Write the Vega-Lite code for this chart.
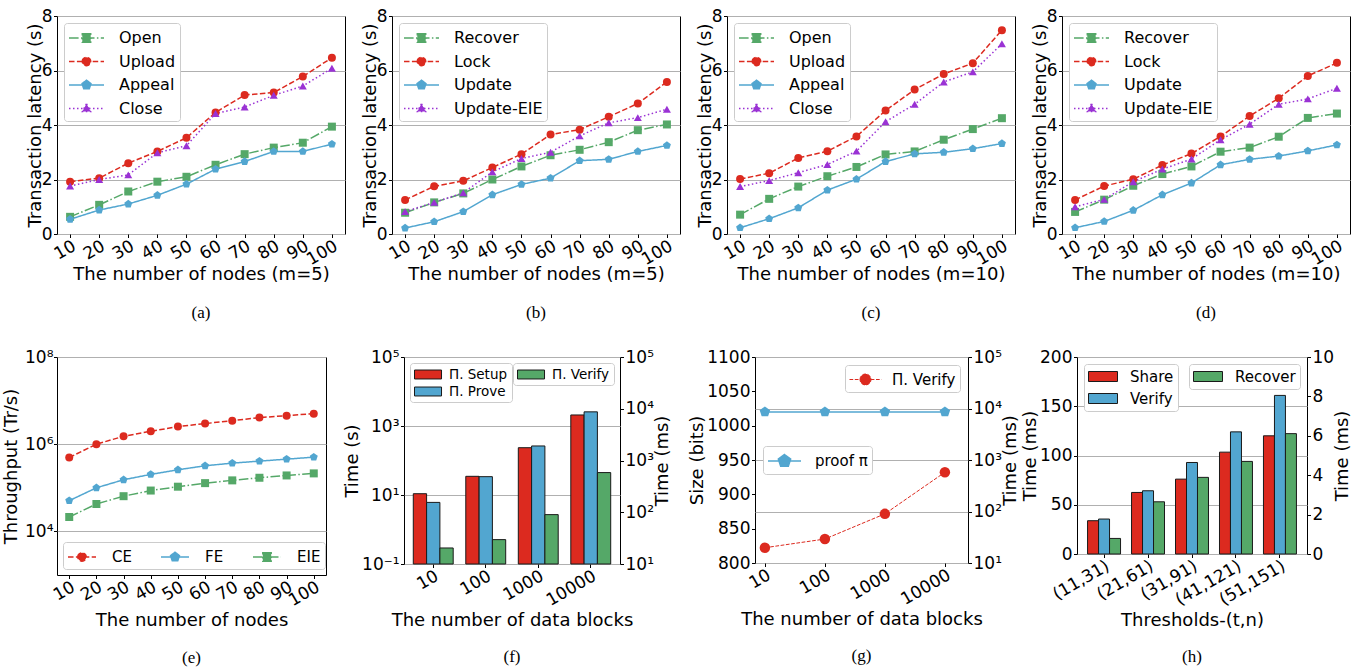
{
  "$schema": "https://vega.github.io/schema/vega-lite/v6.json",
  "padding": {"left": 2, "top": 6, "right": 0, "bottom": 0},
  "background": "white",
  "config": {
    "font": "DejaVu Sans",
    "view": {"stroke": "black", "strokeWidth": 1},
    "axis": {"domain": false, "tickColor": "black", "tickSize": 3.5, "labelFontSize": 17, "titleFontSize": 18, "labelColor": "black", "titleColor": "black", "titleFontWeight": "normal", "gridColor": "#b0b0b0", "gridWidth": 1, "labelPadding": 1.5, "titlePadding": 0, "labelFlush": false, "labelOverlap": false, "labelBound": false},
    "axisX": {"titlePadding": -2, "labelPadding": 0},
    "legend": {"labelFontSize": 16, "labelColor": "black", "fillColor": "white", "strokeColor": "#cccccc", "cornerRadius": 3, "padding": 4, "labelFont": "DejaVu Sans"},
    "title": {"font": "Liberation Serif", "fontSize": 17, "fontWeight": "normal", "color": "black", "frame": "group"}
  },
  "datasets": {
    "a": [
      {"n":10,"s":"Open","v":0.63},{"n":20,"s":"Open","v":1.07},{"n":30,"s":"Open","v":1.56},{"n":40,"s":"Open","v":1.92},{"n":50,"s":"Open","v":2.10},{"n":60,"s":"Open","v":2.54},{"n":70,"s":"Open","v":2.93},{"n":80,"s":"Open","v":3.17},{"n":90,"s":"Open","v":3.35},{"n":100,"s":"Open","v":3.94},
      {"n":10,"s":"Upload","v":1.92},{"n":20,"s":"Upload","v":2.05},{"n":30,"s":"Upload","v":2.60},{"n":40,"s":"Upload","v":3.03},{"n":50,"s":"Upload","v":3.53},{"n":60,"s":"Upload","v":4.46},{"n":70,"s":"Upload","v":5.10},{"n":80,"s":"Upload","v":5.19},{"n":90,"s":"Upload","v":5.78},{"n":100,"s":"Upload","v":6.47},
      {"n":10,"s":"Appeal","v":0.54},{"n":20,"s":"Appeal","v":0.88},{"n":30,"s":"Appeal","v":1.10},{"n":40,"s":"Appeal","v":1.42},{"n":50,"s":"Appeal","v":1.83},{"n":60,"s":"Appeal","v":2.38},{"n":70,"s":"Appeal","v":2.66},{"n":80,"s":"Appeal","v":3.03},{"n":90,"s":"Appeal","v":3.03},{"n":100,"s":"Appeal","v":3.30},
      {"n":10,"s":"Close","v":1.76},{"n":20,"s":"Close","v":2.00},{"n":30,"s":"Close","v":2.17},{"n":40,"s":"Close","v":2.98},{"n":50,"s":"Close","v":3.24},{"n":60,"s":"Close","v":4.42},{"n":70,"s":"Close","v":4.66},{"n":80,"s":"Close","v":5.09},{"n":90,"s":"Close","v":5.43},{"n":100,"s":"Close","v":6.08}
    ],
    "b": [
      {"n":10,"s":"Recover","v":0.78},{"n":20,"s":"Recover","v":1.16},{"n":30,"s":"Recover","v":1.49},{"n":40,"s":"Recover","v":2.00},{"n":50,"s":"Recover","v":2.48},{"n":60,"s":"Recover","v":2.89},{"n":70,"s":"Recover","v":3.09},{"n":80,"s":"Recover","v":3.37},{"n":90,"s":"Recover","v":3.81},{"n":100,"s":"Recover","v":4.02},
      {"n":10,"s":"Lock","v":1.25},{"n":20,"s":"Lock","v":1.75},{"n":30,"s":"Lock","v":1.95},{"n":40,"s":"Lock","v":2.44},{"n":50,"s":"Lock","v":2.93},{"n":60,"s":"Lock","v":3.65},{"n":70,"s":"Lock","v":3.83},{"n":80,"s":"Lock","v":4.30},{"n":90,"s":"Lock","v":4.79},{"n":100,"s":"Lock","v":5.58},
      {"n":10,"s":"Update","v":0.22},{"n":20,"s":"Update","v":0.45},{"n":30,"s":"Update","v":0.82},{"n":40,"s":"Update","v":1.44},{"n":50,"s":"Update","v":1.82},{"n":60,"s":"Update","v":2.05},{"n":70,"s":"Update","v":2.69},{"n":80,"s":"Update","v":2.74},{"n":90,"s":"Update","v":3.03},{"n":100,"s":"Update","v":3.25},
      {"n":10,"s":"Update-EIE","v":0.82},{"n":20,"s":"Update-EIE","v":1.16},{"n":30,"s":"Update-EIE","v":1.51},{"n":40,"s":"Update-EIE","v":2.28},{"n":50,"s":"Update-EIE","v":2.77},{"n":60,"s":"Update-EIE","v":3.00},{"n":70,"s":"Update-EIE","v":3.60},{"n":80,"s":"Update-EIE","v":4.08},{"n":90,"s":"Update-EIE","v":4.27},{"n":100,"s":"Update-EIE","v":4.58}
    ],
    "c": [
      {"n":10,"s":"Open","v":0.71},{"n":20,"s":"Open","v":1.29},{"n":30,"s":"Open","v":1.74},{"n":40,"s":"Open","v":2.12},{"n":50,"s":"Open","v":2.46},{"n":60,"s":"Open","v":2.92},{"n":70,"s":"Open","v":3.03},{"n":80,"s":"Open","v":3.46},{"n":90,"s":"Open","v":3.85},{"n":100,"s":"Open","v":4.25},
      {"n":10,"s":"Upload","v":2.02},{"n":20,"s":"Upload","v":2.23},{"n":30,"s":"Upload","v":2.79},{"n":40,"s":"Upload","v":3.04},{"n":50,"s":"Upload","v":3.58},{"n":60,"s":"Upload","v":4.53},{"n":70,"s":"Upload","v":5.30},{"n":80,"s":"Upload","v":5.87},{"n":90,"s":"Upload","v":6.27},{"n":100,"s":"Upload","v":7.48},
      {"n":10,"s":"Appeal","v":0.23},{"n":20,"s":"Appeal","v":0.56},{"n":30,"s":"Appeal","v":0.96},{"n":40,"s":"Appeal","v":1.61},{"n":50,"s":"Appeal","v":2.01},{"n":60,"s":"Appeal","v":2.66},{"n":70,"s":"Appeal","v":2.94},{"n":80,"s":"Appeal","v":3.00},{"n":90,"s":"Appeal","v":3.13},{"n":100,"s":"Appeal","v":3.32},
      {"n":10,"s":"Close","v":1.74},{"n":20,"s":"Close","v":1.96},{"n":30,"s":"Close","v":2.25},{"n":40,"s":"Close","v":2.55},{"n":50,"s":"Close","v":3.04},{"n":60,"s":"Close","v":4.12},{"n":70,"s":"Close","v":4.76},{"n":80,"s":"Close","v":5.58},{"n":90,"s":"Close","v":5.95},{"n":100,"s":"Close","v":6.98}
    ],
    "d": [
      {"n":10,"s":"Recover","v":0.81},{"n":20,"s":"Recover","v":1.26},{"n":30,"s":"Recover","v":1.77},{"n":40,"s":"Recover","v":2.20},{"n":50,"s":"Recover","v":2.48},{"n":60,"s":"Recover","v":3.02},{"n":70,"s":"Recover","v":3.17},{"n":80,"s":"Recover","v":3.57},{"n":90,"s":"Recover","v":4.26},{"n":100,"s":"Recover","v":4.42},
      {"n":10,"s":"Lock","v":1.25},{"n":20,"s":"Lock","v":1.76},{"n":30,"s":"Lock","v":2.01},{"n":40,"s":"Lock","v":2.53},{"n":50,"s":"Lock","v":2.95},{"n":60,"s":"Lock","v":3.58},{"n":70,"s":"Lock","v":4.33},{"n":80,"s":"Lock","v":4.98},{"n":90,"s":"Lock","v":5.80},{"n":100,"s":"Lock","v":6.28},
      {"n":10,"s":"Update","v":0.23},{"n":20,"s":"Update","v":0.46},{"n":30,"s":"Update","v":0.87},{"n":40,"s":"Update","v":1.44},{"n":50,"s":"Update","v":1.87},{"n":60,"s":"Update","v":2.54},{"n":70,"s":"Update","v":2.74},{"n":80,"s":"Update","v":2.86},{"n":90,"s":"Update","v":3.05},{"n":100,"s":"Update","v":3.27},
      {"n":10,"s":"Update-EIE","v":1.00},{"n":20,"s":"Update-EIE","v":1.27},{"n":30,"s":"Update-EIE","v":1.92},{"n":40,"s":"Update-EIE","v":2.38},{"n":50,"s":"Update-EIE","v":2.75},{"n":60,"s":"Update-EIE","v":3.46},{"n":70,"s":"Update-EIE","v":4.03},{"n":80,"s":"Update-EIE","v":4.76},{"n":90,"s":"Update-EIE","v":4.96},{"n":100,"s":"Update-EIE","v":5.35}
    ],
    "e": [
      {"n":10,"s":"CE","v":496000},{"n":20,"s":"CE","v":1000000},{"n":30,"s":"CE","v":1520000},{"n":40,"s":"CE","v":1980000},{"n":50,"s":"CE","v":2530000},{"n":60,"s":"CE","v":2970000},{"n":70,"s":"CE","v":3470000},{"n":80,"s":"CE","v":4070000},{"n":90,"s":"CE","v":4520000},{"n":100,"s":"CE","v":5020000},
      {"n":10,"s":"FE","v":50700},{"n":20,"s":"FE","v":100000},{"n":30,"s":"FE","v":153000},{"n":40,"s":"FE","v":203000},{"n":50,"s":"FE","v":259000},{"n":60,"s":"FE","v":320000},{"n":70,"s":"FE","v":368000},{"n":80,"s":"FE","v":409000},{"n":90,"s":"FE","v":454000},{"n":100,"s":"FE","v":505000},
      {"n":10,"s":"EIE","v":21400},{"n":20,"s":"EIE","v":42500},{"n":30,"s":"EIE","v":64200},{"n":40,"s":"EIE","v":86500},{"n":50,"s":"EIE","v":106000},{"n":60,"s":"EIE","v":128000},{"n":70,"s":"EIE","v":148000},{"n":80,"s":"EIE","v":170000},{"n":90,"s":"EIE","v":192000},{"n":100,"s":"EIE","v":214000}
    ],
    "f": [
      {"b":"10","s":"Π. Setup","u":"s","t":10.9},{"b":"10","s":"Π. Prove","u":"s","t":6.1},{"b":"10","s":"Π. Verify","u":"ms","t":20.4},
      {"b":"100","s":"Π. Setup","u":"s","t":34.8},{"b":"100","s":"Π. Prove","u":"s","t":34},{"b":"100","s":"Π. Verify","u":"ms","t":29.6},
      {"b":"1000","s":"Π. Setup","u":"s","t":235},{"b":"1000","s":"Π. Prove","u":"s","t":264},{"b":"1000","s":"Π. Verify","u":"ms","t":90},
      {"b":"10000","s":"Π. Setup","u":"s","t":2090},{"b":"10000","s":"Π. Prove","u":"s","t":2570},{"b":"10000","s":"Π. Verify","u":"ms","t":584}
    ],
    "g": [
      {"b":"10","s":"proof π","v":1020},{"b":"100","s":"proof π","v":1020},{"b":"1000","s":"proof π","v":1020},{"b":"10000","s":"proof π","v":1020},
      {"b":"10","s":"Π. Verify","v":19.8},{"b":"100","s":"Π. Verify","v":29.2},{"b":"1000","s":"Π. Verify","v":90},{"b":"10000","s":"Π. Verify","v":578}
    ],
    "h": [
      {"b":"(11,31)","s":"Share","u":"l","t":33.8},{"b":"(11,31)","s":"Verify","u":"l","t":35.5},{"b":"(11,31)","s":"Recover","u":"r","t":0.79},
      {"b":"(21,61)","s":"Share","u":"l","t":62.5},{"b":"(21,61)","s":"Verify","u":"l","t":64.2},{"b":"(21,61)","s":"Recover","u":"r","t":2.65},
      {"b":"(31,91)","s":"Share","u":"l","t":76},{"b":"(31,91)","s":"Verify","u":"l","t":92.9},{"b":"(31,91)","s":"Recover","u":"r","t":3.89},
      {"b":"(41,121)","s":"Share","u":"l","t":103.4},{"b":"(41,121)","s":"Verify","u":"l","t":124},{"b":"(41,121)","s":"Recover","u":"r","t":4.7},
      {"b":"(51,151)","s":"Share","u":"l","t":120},{"b":"(51,151)","s":"Verify","u":"l","t":161},{"b":"(51,151)","s":"Recover","u":"r","t":6.11}
    ]
  },
  "spacing": 25,
  "center": false,
  "bounds": "full",
  "resolve": {"scale": {"color": "independent", "fill": "independent", "stroke": "independent", "shape": "independent", "strokeDash": "independent", "xOffset": "independent"}},
  "vconcat": [
    {
      "spacing": 14,
      "bounds": "full",
      "resolve": {"scale": {"color": "independent", "fill": "independent", "stroke": "independent", "shape": "independent", "strokeDash": "independent", "xOffset": "independent"}},
      "hconcat": [
        {
          "width": 288, "height": 218,
          "data": {"name": "a"},
          "title": {"text": "(a)", "orient": "bottom", "offset": 21},
          "encoding": {
            "x": {"field": "n", "type": "quantitative", "scale": {"domain": [5.5, 104.5], "nice": false, "zero": false},
                  "axis": {"values": [10,20,30,40,50,60,70,80,90,100], "title": "The number of nodes (m=5)", "grid": false, "labelAngle": -30, "labelAlign": "right", "labelBaseline": "top",
                           "encode": {"labels": {"dx": {"value": {"expr": "length(datum.label)*4.05-3.7"}}, "dy": {"value": {"expr": "length(datum.label)*2.34-2.1"}}}}}},
            "y": {"field": "v", "type": "quantitative", "scale": {"domain": [0, 8], "nice": false}, "axis": {"values": [0,2,4,6,8], "title": "Transaction latency (s)", "titlePadding": -3, "grid": true}}
          },
          "layer": [
            {"mark": {"type": "line", "strokeWidth": 1.5},
             "encoding": {
               "stroke": {"field": "s", "type": "nominal", "scale": {"domain": ["Open","Upload","Appeal","Close"], "range": ["#55a868","#dc2a1f","#52a6d0","#9a32d4"]}},
               "strokeDash": {"field": "s", "type": "nominal", "scale": {"domain": ["Open","Upload","Appeal","Close"], "range": [[9.6,2.4,1.5,2.4],[5.5,2.4],[1,0],[1.5,2.5]]}}
             }},
            {"transform": [{"filter": "datum.s === 'Open'"}], "mark": {"type": "point", "filled": true, "size": 64, "opacity": 1, "strokeWidth": 0, "shape": "square", "color": "#55a868"}},
            {"transform": [{"filter": "datum.s === 'Upload'"}], "mark": {"type": "point", "filled": true, "size": 64, "opacity": 1, "strokeWidth": 0, "shape": "circle", "color": "#dc2a1f"}},
            {"transform": [{"filter": "datum.s === 'Appeal'"}], "mark": {"type": "point", "filled": true, "size": 70, "opacity": 1, "strokeWidth": 0, "shape": "M0,-1L0.951,-0.309L0.588,0.809L-0.588,0.809L-0.951,-0.309Z", "color": "#52a6d0"}},
            {"transform": [{"filter": "datum.s === 'Close'"}], "mark": {"type": "point", "filled": true, "size": 64, "opacity": 1, "strokeWidth": 0, "shape": "triangle-up", "color": "#9a32d4"}},
            {"transform": [{"filter": "datum.n === 10"}],
             "mark": {"type": "point", "filled": true, "size": 400, "opacity": 0, "strokeWidth": 1.5, "clip": true},
             "encoding": {
               "fill": {"field": "s", "type": "nominal", "scale": {"domain": ["Open","Upload","Appeal","Close"], "range": ["#55a868","#dc2a1f","#52a6d0","#9a32d4"]},
                        "legend": {"title": null, "orient": "top-left", "offset": 7, "symbolSize": 400, "symbolStrokeWidth": 1.5, "symbolOpacity": 1, "labelOffset": 29, "rowPadding": 4.5}},
               "stroke": {"field": "s", "type": "nominal",
                        "legend": {"title": null, "orient": "top-left", "offset": 7, "symbolSize": 400, "symbolStrokeWidth": 1.5, "symbolOpacity": 1, "labelOffset": 29, "rowPadding": 4.5}},
               "shape": {"field": "s", "type": "nominal", "scale": {"domain": ["Open","Upload","Appeal","Close"], "range": ["M-1,0H2.5M0.33,-0.42H1.17V0.42H0.33Z","M-1,0H2.5M0.33,0A0.42,0.42 0 1,1 1.17,0A0.42,0.42 0 1,1 0.33,0Z","M-1,0H2.5M0.75,-0.47L1.197,-0.145L1.026,0.38L0.474,0.38L0.303,-0.145Z","M-1,0H2.5M0.75,-0.47L1.16,0.3L0.34,0.3Z"]},
                        "legend": {"title": null, "orient": "top-left", "offset": 7, "symbolSize": 400, "symbolStrokeWidth": 1.5, "symbolOpacity": 1, "labelOffset": 29, "rowPadding": 4.5}}
             }}
          ]
        },
        {
          "width": 288, "height": 218,
          "data": {"name": "b"},
          "title": {"text": "(b)", "orient": "bottom", "offset": 21},
          "encoding": {
            "x": {"field": "n", "type": "quantitative", "scale": {"domain": [5.5, 104.5], "nice": false, "zero": false},
                  "axis": {"values": [10,20,30,40,50,60,70,80,90,100], "title": "The number of nodes (m=5)", "grid": false, "labelAngle": -30, "labelAlign": "right", "labelBaseline": "top",
                           "encode": {"labels": {"dx": {"value": {"expr": "length(datum.label)*4.05-3.7"}}, "dy": {"value": {"expr": "length(datum.label)*2.34-2.1"}}}}}},
            "y": {"field": "v", "type": "quantitative", "scale": {"domain": [0, 8], "nice": false}, "axis": {"values": [0,2,4,6,8], "title": "Transaction latency (s)", "titlePadding": -3, "grid": true}}
          },
          "layer": [
            {"mark": {"type": "line", "strokeWidth": 1.5},
             "encoding": {
               "stroke": {"field": "s", "type": "nominal", "scale": {"domain": ["Recover","Lock","Update","Update-EIE"], "range": ["#55a868","#dc2a1f","#52a6d0","#9a32d4"]}},
               "strokeDash": {"field": "s", "type": "nominal", "scale": {"domain": ["Recover","Lock","Update","Update-EIE"], "range": [[9.6,2.4,1.5,2.4],[5.5,2.4],[1,0],[1.5,2.5]]}}
             }},
            {"transform": [{"filter": "datum.s === 'Recover'"}], "mark": {"type": "point", "filled": true, "size": 64, "opacity": 1, "strokeWidth": 0, "shape": "square", "color": "#55a868"}},
            {"transform": [{"filter": "datum.s === 'Lock'"}], "mark": {"type": "point", "filled": true, "size": 64, "opacity": 1, "strokeWidth": 0, "shape": "circle", "color": "#dc2a1f"}},
            {"transform": [{"filter": "datum.s === 'Update'"}], "mark": {"type": "point", "filled": true, "size": 70, "opacity": 1, "strokeWidth": 0, "shape": "M0,-1L0.951,-0.309L0.588,0.809L-0.588,0.809L-0.951,-0.309Z", "color": "#52a6d0"}},
            {"transform": [{"filter": "datum.s === 'Update-EIE'"}], "mark": {"type": "point", "filled": true, "size": 64, "opacity": 1, "strokeWidth": 0, "shape": "triangle-up", "color": "#9a32d4"}},
            {"transform": [{"filter": "datum.n === 10"}],
             "mark": {"type": "point", "filled": true, "size": 400, "opacity": 0, "strokeWidth": 1.5, "clip": true},
             "encoding": {
               "fill": {"field": "s", "type": "nominal", "scale": {"domain": ["Recover","Lock","Update","Update-EIE"], "range": ["#55a868","#dc2a1f","#52a6d0","#9a32d4"]},
                        "legend": {"title": null, "orient": "top-left", "offset": 7, "symbolSize": 400, "symbolStrokeWidth": 1.5, "symbolOpacity": 1, "labelOffset": 29, "rowPadding": 4.5}},
               "stroke": {"field": "s", "type": "nominal",
                        "legend": {"title": null, "orient": "top-left", "offset": 7, "symbolSize": 400, "symbolStrokeWidth": 1.5, "symbolOpacity": 1, "labelOffset": 29, "rowPadding": 4.5}},
               "shape": {"field": "s", "type": "nominal", "scale": {"domain": ["Recover","Lock","Update","Update-EIE"], "range": ["M-1,0H2.5M0.33,-0.42H1.17V0.42H0.33Z","M-1,0H2.5M0.33,0A0.42,0.42 0 1,1 1.17,0A0.42,0.42 0 1,1 0.33,0Z","M-1,0H2.5M0.75,-0.47L1.197,-0.145L1.026,0.38L0.474,0.38L0.303,-0.145Z","M-1,0H2.5M0.75,-0.47L1.16,0.3L0.34,0.3Z"]},
                        "legend": {"title": null, "orient": "top-left", "offset": 7, "symbolSize": 400, "symbolStrokeWidth": 1.5, "symbolOpacity": 1, "labelOffset": 29, "rowPadding": 4.5}}
             }}
          ]
        },
        {
          "width": 288, "height": 218,
          "data": {"name": "c"},
          "title": {"text": "(c)", "orient": "bottom", "offset": 21},
          "encoding": {
            "x": {"field": "n", "type": "quantitative", "scale": {"domain": [5.5, 104.5], "nice": false, "zero": false},
                  "axis": {"values": [10,20,30,40,50,60,70,80,90,100], "title": "The number of nodes (m=10)", "grid": false, "labelAngle": -30, "labelAlign": "right", "labelBaseline": "top",
                           "encode": {"labels": {"dx": {"value": {"expr": "length(datum.label)*4.05-3.7"}}, "dy": {"value": {"expr": "length(datum.label)*2.34-2.1"}}}}}},
            "y": {"field": "v", "type": "quantitative", "scale": {"domain": [0, 8], "nice": false}, "axis": {"values": [0,2,4,6,8], "title": "Transaction latency (s)", "titlePadding": -3, "grid": true}}
          },
          "layer": [
            {"mark": {"type": "line", "strokeWidth": 1.5},
             "encoding": {
               "stroke": {"field": "s", "type": "nominal", "scale": {"domain": ["Open","Upload","Appeal","Close"], "range": ["#55a868","#dc2a1f","#52a6d0","#9a32d4"]}},
               "strokeDash": {"field": "s", "type": "nominal", "scale": {"domain": ["Open","Upload","Appeal","Close"], "range": [[9.6,2.4,1.5,2.4],[5.5,2.4],[1,0],[1.5,2.5]]}}
             }},
            {"transform": [{"filter": "datum.s === 'Open'"}], "mark": {"type": "point", "filled": true, "size": 64, "opacity": 1, "strokeWidth": 0, "shape": "square", "color": "#55a868"}},
            {"transform": [{"filter": "datum.s === 'Upload'"}], "mark": {"type": "point", "filled": true, "size": 64, "opacity": 1, "strokeWidth": 0, "shape": "circle", "color": "#dc2a1f"}},
            {"transform": [{"filter": "datum.s === 'Appeal'"}], "mark": {"type": "point", "filled": true, "size": 70, "opacity": 1, "strokeWidth": 0, "shape": "M0,-1L0.951,-0.309L0.588,0.809L-0.588,0.809L-0.951,-0.309Z", "color": "#52a6d0"}},
            {"transform": [{"filter": "datum.s === 'Close'"}], "mark": {"type": "point", "filled": true, "size": 64, "opacity": 1, "strokeWidth": 0, "shape": "triangle-up", "color": "#9a32d4"}},
            {"transform": [{"filter": "datum.n === 10"}],
             "mark": {"type": "point", "filled": true, "size": 400, "opacity": 0, "strokeWidth": 1.5, "clip": true},
             "encoding": {
               "fill": {"field": "s", "type": "nominal", "scale": {"domain": ["Open","Upload","Appeal","Close"], "range": ["#55a868","#dc2a1f","#52a6d0","#9a32d4"]},
                        "legend": {"title": null, "orient": "top-left", "offset": 7, "symbolSize": 400, "symbolStrokeWidth": 1.5, "symbolOpacity": 1, "labelOffset": 29, "rowPadding": 4.5}},
               "stroke": {"field": "s", "type": "nominal",
                        "legend": {"title": null, "orient": "top-left", "offset": 7, "symbolSize": 400, "symbolStrokeWidth": 1.5, "symbolOpacity": 1, "labelOffset": 29, "rowPadding": 4.5}},
               "shape": {"field": "s", "type": "nominal", "scale": {"domain": ["Open","Upload","Appeal","Close"], "range": ["M-1,0H2.5M0.33,-0.42H1.17V0.42H0.33Z","M-1,0H2.5M0.33,0A0.42,0.42 0 1,1 1.17,0A0.42,0.42 0 1,1 0.33,0Z","M-1,0H2.5M0.75,-0.47L1.197,-0.145L1.026,0.38L0.474,0.38L0.303,-0.145Z","M-1,0H2.5M0.75,-0.47L1.16,0.3L0.34,0.3Z"]},
                        "legend": {"title": null, "orient": "top-left", "offset": 7, "symbolSize": 400, "symbolStrokeWidth": 1.5, "symbolOpacity": 1, "labelOffset": 29, "rowPadding": 4.5}}
             }}
          ]
        },
        {
          "width": 288, "height": 218,
          "data": {"name": "d"},
          "title": {"text": "(d)", "orient": "bottom", "offset": 21},
          "encoding": {
            "x": {"field": "n", "type": "quantitative", "scale": {"domain": [5.5, 104.5], "nice": false, "zero": false},
                  "axis": {"values": [10,20,30,40,50,60,70,80,90,100], "title": "The number of nodes (m=10)", "grid": false, "labelAngle": -30, "labelAlign": "right", "labelBaseline": "top",
                           "encode": {"labels": {"dx": {"value": {"expr": "length(datum.label)*4.05-3.7"}}, "dy": {"value": {"expr": "length(datum.label)*2.34-2.1"}}}}}},
            "y": {"field": "v", "type": "quantitative", "scale": {"domain": [0, 8], "nice": false}, "axis": {"values": [0,2,4,6,8], "title": "Transaction latency (s)", "titlePadding": -3, "grid": true}}
          },
          "layer": [
            {"mark": {"type": "line", "strokeWidth": 1.5},
             "encoding": {
               "stroke": {"field": "s", "type": "nominal", "scale": {"domain": ["Recover","Lock","Update","Update-EIE"], "range": ["#55a868","#dc2a1f","#52a6d0","#9a32d4"]}},
               "strokeDash": {"field": "s", "type": "nominal", "scale": {"domain": ["Recover","Lock","Update","Update-EIE"], "range": [[9.6,2.4,1.5,2.4],[5.5,2.4],[1,0],[1.5,2.5]]}}
             }},
            {"transform": [{"filter": "datum.s === 'Recover'"}], "mark": {"type": "point", "filled": true, "size": 64, "opacity": 1, "strokeWidth": 0, "shape": "square", "color": "#55a868"}},
            {"transform": [{"filter": "datum.s === 'Lock'"}], "mark": {"type": "point", "filled": true, "size": 64, "opacity": 1, "strokeWidth": 0, "shape": "circle", "color": "#dc2a1f"}},
            {"transform": [{"filter": "datum.s === 'Update'"}], "mark": {"type": "point", "filled": true, "size": 70, "opacity": 1, "strokeWidth": 0, "shape": "M0,-1L0.951,-0.309L0.588,0.809L-0.588,0.809L-0.951,-0.309Z", "color": "#52a6d0"}},
            {"transform": [{"filter": "datum.s === 'Update-EIE'"}], "mark": {"type": "point", "filled": true, "size": 64, "opacity": 1, "strokeWidth": 0, "shape": "triangle-up", "color": "#9a32d4"}},
            {"transform": [{"filter": "datum.n === 10"}],
             "mark": {"type": "point", "filled": true, "size": 400, "opacity": 0, "strokeWidth": 1.5, "clip": true},
             "encoding": {
               "fill": {"field": "s", "type": "nominal", "scale": {"domain": ["Recover","Lock","Update","Update-EIE"], "range": ["#55a868","#dc2a1f","#52a6d0","#9a32d4"]},
                        "legend": {"title": null, "orient": "top-left", "offset": 7, "symbolSize": 400, "symbolStrokeWidth": 1.5, "symbolOpacity": 1, "labelOffset": 29, "rowPadding": 4.5}},
               "stroke": {"field": "s", "type": "nominal",
                        "legend": {"title": null, "orient": "top-left", "offset": 7, "symbolSize": 400, "symbolStrokeWidth": 1.5, "symbolOpacity": 1, "labelOffset": 29, "rowPadding": 4.5}},
               "shape": {"field": "s", "type": "nominal", "scale": {"domain": ["Recover","Lock","Update","Update-EIE"], "range": ["M-1,0H2.5M0.33,-0.42H1.17V0.42H0.33Z","M-1,0H2.5M0.33,0A0.42,0.42 0 1,1 1.17,0A0.42,0.42 0 1,1 0.33,0Z","M-1,0H2.5M0.75,-0.47L1.197,-0.145L1.026,0.38L0.474,0.38L0.303,-0.145Z","M-1,0H2.5M0.75,-0.47L1.16,0.3L0.34,0.3Z"]},
                        "legend": {"title": null, "orient": "top-left", "offset": 7, "symbolSize": 400, "symbolStrokeWidth": 1.5, "symbolOpacity": 1, "labelOffset": 29, "rowPadding": 4.5}}
             }}
          ]
        }
      ]
    },
    {
      "spacing": 16,
      "bounds": "full",
      "resolve": {"scale": {"color": "independent", "fill": "independent", "stroke": "independent", "shape": "independent", "strokeDash": "independent", "xOffset": "independent"}},
      "hconcat": [
        {
          "width": 269, "height": 218,
          "data": {"name": "e"},
          "title": {"text": "(e)", "orient": "bottom", "offset": 20},
          "encoding": {
            "x": {"field": "n", "type": "quantitative", "scale": {"domain": [5.5, 104.5], "nice": false, "zero": false},
                  "axis": {"values": [10,20,30,40,50,60,70,80,90,100], "title": "The number of nodes", "titlePadding": 3, "grid": false, "labelAngle": -30, "labelAlign": "right", "labelBaseline": "top",
                           "encode": {"labels": {"dx": {"value": {"expr": "length(datum.label)*4.05-3.7"}}, "dy": {"value": {"expr": "length(datum.label)*2.34-2.1"}}}}}},
            "y": {"field": "v", "type": "quantitative", "scale": {"type": "log", "domain": [1000, 100000000], "nice": false}, "axis": {"values": [10000, 1000000, 100000000], "title": "Throughput (Tr/s)", "titlePadding": 4, "labelPadding": 0.5, "grid": true,
                  "labelExpr": "'10'+(datum.value<1?'⁻':'')+['⁰','¹','²','³','⁴','⁵','⁶','⁷','⁸','⁹'][abs(round(log(datum.value)/LN10))]"}}
          },
          "layer": [
            {"mark": {"type": "line", "strokeWidth": 1.5},
             "encoding": {
               "stroke": {"field": "s", "type": "nominal", "scale": {"domain": ["CE","FE","EIE"], "range": ["#dc2a1f","#52a6d0","#55a868"]}},
               "strokeDash": {"field": "s", "type": "nominal", "scale": {"domain": ["CE","FE","EIE"], "range": [[5.5,2.4],[1,0],[9.6,2.4,1.5,2.4]]}}
             }},
            {"transform": [{"filter": "datum.s === 'CE'"}], "mark": {"type": "point", "filled": true, "size": 64, "opacity": 1, "strokeWidth": 0, "shape": "circle", "color": "#dc2a1f"}},
            {"transform": [{"filter": "datum.s === 'FE'"}], "mark": {"type": "point", "filled": true, "size": 70, "opacity": 1, "strokeWidth": 0, "shape": "M0,-1L0.951,-0.309L0.588,0.809L-0.588,0.809L-0.951,-0.309Z", "color": "#52a6d0"}},
            {"transform": [{"filter": "datum.s === 'EIE'"}], "mark": {"type": "point", "filled": true, "size": 64, "opacity": 1, "strokeWidth": 0, "shape": "square", "color": "#55a868"}},
            {"transform": [{"filter": "datum.n === 10"}],
             "mark": {"type": "point", "filled": true, "size": 400, "opacity": 0, "strokeWidth": 1.5, "clip": true},
             "encoding": {
               "fill": {"field": "s", "type": "nominal", "scale": {"domain": ["CE","FE","EIE"], "range": ["#dc2a1f","#52a6d0","#55a868"]},
                        "legend": {"title": null, "orient": "bottom-left", "offset": 6, "direction": "horizontal", "columns": 3, "columnPadding": 26, "symbolSize": 400, "symbolStrokeWidth": 1.5, "symbolOpacity": 1, "labelOffset": 23, "labelFontSize": 15}},
               "stroke": {"field": "s", "type": "nominal",
                        "legend": {"title": null, "orient": "bottom-left", "offset": 6, "direction": "horizontal", "columns": 3, "columnPadding": 26, "symbolSize": 400, "symbolStrokeWidth": 1.5, "symbolOpacity": 1, "labelOffset": 23, "labelFontSize": 15}},
               "shape": {"field": "s", "type": "nominal", "scale": {"domain": ["CE","FE","EIE"], "range": ["M-1,0H1.8M-0.02,0A0.42,0.42 0 1,1 0.82,0A0.42,0.42 0 1,1 -0.02,0Z","M-1,0H1.8M0.4,-0.47L0.847,-0.145L0.676,0.38L0.124,0.38L-0.047,-0.145Z","M-1,0H1.8M-0.02,-0.42H0.82V0.42H-0.02Z"]},
                        "legend": {"title": null, "orient": "bottom-left", "offset": 6, "direction": "horizontal", "columns": 3, "columnPadding": 26, "symbolSize": 400, "symbolStrokeWidth": 1.5, "symbolOpacity": 1, "labelOffset": 23, "labelFontSize": 15}}
             }}
          ]
        },
        {
          "width": 216, "height": 207,
          "data": {"name": "f"},
          "title": {"text": "(f)", "orient": "bottom", "offset": 20},
          "encoding": {
            "x": {"field": "b", "type": "nominal", "sort": ["10","100","1000","10000"], "scale": {"paddingInner": 0.24, "paddingOuter": 0.177},
                  "axis": {"title": "The number of data blocks", "titlePadding": 3, "labelAngle": -30, "labelAlign": "right", "labelBaseline": "top",
                           "encode": {"labels": {"dx": {"value": {"expr": "length(datum.label)*4.05-3.7"}}, "dy": {"value": {"expr": "length(datum.label)*2.34-2.1"}}}}}},
            "xOffset": {"field": "s", "type": "nominal", "scale": {"domain": ["Π. Setup","Π. Prove","Π. Verify"]}}
          },
          "layer": [
            {"transform": [{"filter": "datum.u === 's'"}],
             "mark": {"type": "bar", "stroke": "#1a1a1a", "strokeWidth": 1},
             "encoding": {
               "y": {"field": "t", "type": "quantitative", "scale": {"type": "log", "domain": [0.1, 100000], "nice": false}, "axis": {"title": "Time (s)", "values": [0.1, 10, 1000, 100000], "grid": true,
                     "labelExpr": "'10'+(datum.value<1?'⁻':'')+['⁰','¹','²','³','⁴','⁵','⁶','⁷','⁸','⁹'][abs(round(log(datum.value)/LN10))]"}},
               "y2": {"datum": 0.1},
               "color": {"field": "s", "type": "nominal", "scale": {"domain": ["Π. Setup","Π. Prove"], "range": ["#dc2a1f","#52a6d0"]},
                         "legend": {"title": null, "orient": "top-left", "offset": 6, "symbolSize": 196, "symbolType": "M-1,-0.64H2.86V0.64H-1Z", "symbolStrokeColor": "#1a1a1a", "symbolStrokeWidth": 1, "labelOffset": 20, "labelFontSize": 13.5, "rowPadding": 3}}
             }},
            {"transform": [{"filter": "datum.u === 'ms'"}],
             "mark": {"type": "bar", "stroke": "#1a1a1a", "strokeWidth": 1},
             "encoding": {
               "y": {"field": "t", "type": "quantitative", "scale": {"type": "log", "domain": [10, 100000], "nice": false}, "axis": {"orient": "right", "title": "Time (ms)", "titleAngle": 270, "titleBaseline": "top", "values": [10, 100, 1000, 10000, 100000], "grid": false,
                     "labelExpr": "'10'+(datum.value<1?'⁻':'')+['⁰','¹','²','³','⁴','⁵','⁶','⁷','⁸','⁹'][abs(round(log(datum.value)/LN10))]"}},
               "y2": {"datum": 10},
               "color": {"field": "s", "type": "nominal", "scale": {"domain": ["Π. Verify"], "range": ["#55a868"]},
                         "legend": {"title": null, "orient": "top-right", "offset": 6, "symbolSize": 196, "symbolType": "M-1,-0.64H2.86V0.64H-1Z", "symbolStrokeColor": "#1a1a1a", "symbolStrokeWidth": 1, "labelOffset": 20, "labelFontSize": 13.5}}
             }}
          ],
          "resolve": {"scale": {"y": "independent", "color": "independent"}}
        },
        {
          "spacing": 1,
          "bounds": "full",
          "resolve": {"scale": {"color": "independent", "fill": "independent", "stroke": "independent", "shape": "independent", "strokeDash": "independent", "xOffset": "independent"}},
          "hconcat": [
            {
              "width": 213, "height": 206,
              "data": {"name": "g"},
              "title": {"text": "(g)", "orient": "bottom", "offset": 20},
              "encoding": {
                "x": {"field": "b", "type": "ordinal", "sort": ["10","100","1000","10000"], "scale": {"type": "point", "padding": 0.275, "align": 0.3},
                      "axis": {"title": "The number of data blocks", "titlePadding": 3, "labelAngle": -30, "labelAlign": "right", "labelBaseline": "top",
                               "encode": {"labels": {"dx": {"value": {"expr": "length(datum.label)*4.05-3.7"}}, "dy": {"value": {"expr": "length(datum.label)*2.34-2.1"}}}}}}
              },
              "layer": [
                {"transform": [{"filter": "datum.s === 'proof π'"}],
                 "encoding": {"y": {"field": "v", "type": "quantitative", "scale": {"domain": [800, 1100], "nice": false, "zero": false}, "axis": {"title": "Size (bits)", "values": [800,850,900,950,1000,1050,1100], "format": "d", "grid": false}}},
                 "layer": [
                   {"mark": {"type": "line", "strokeWidth": 1.5},
                    "encoding": {"stroke": {"field": "s", "type": "nominal", "scale": {"domain": ["proof π"], "range": ["#52a6d0"]}}}},
                   {"mark": {"type": "point", "filled": true, "size": 120, "opacity": 1, "strokeWidth": 0, "color": "#52a6d0", "shape": "M0,-1L0.951,-0.309L0.588,0.809L-0.588,0.809L-0.951,-0.309Z"}},
                   {"transform": [{"filter": "datum.b === '10'"}],
                    "mark": {"type": "point", "filled": true, "size": 400, "opacity": 0, "strokeWidth": 1.5, "clip": true},
                    "encoding": {
                      "fill": {"field": "s", "type": "nominal", "scale": {"domain": ["proof π"], "range": ["#52a6d0"]},
                               "legend": {"title": null, "orient": "none", "legendX": 8, "legendY": 89, "symbolSize": 400, "symbolStrokeWidth": 1.5, "symbolOpacity": 1, "labelOffset": 26, "labelFontSize": 15}},
                      "stroke": {"field": "s", "type": "nominal",
                               "legend": {"title": null, "orient": "none", "legendX": 8, "legendY": 89, "symbolSize": 400, "symbolStrokeWidth": 1.5, "symbolOpacity": 1, "labelOffset": 26, "labelFontSize": 15}},
                      "shape": {"field": "s", "type": "nominal", "scale": {"domain": ["proof π"], "range": ["M-1,0H2.3M0.65,-0.65L1.268,-0.2L1.032,0.526L0.268,0.526L0.032,-0.2Z"]},
                               "legend": {"title": null, "orient": "none", "legendX": 8, "legendY": 89, "symbolSize": 400, "symbolStrokeWidth": 1.5, "symbolOpacity": 1, "labelOffset": 26, "labelFontSize": 15}}
                    }}
                 ]},
                {"transform": [{"filter": "datum.s === 'Π. Verify'"}],
                 "encoding": {"y": {"field": "v", "type": "quantitative", "scale": {"type": "log", "domain": [10, 100000], "nice": false}, "axis": {"orient": "right", "title": "Time (ms)", "titleAngle": 270, "titleBaseline": "top", "values": [10, 100, 1000, 10000, 100000], "grid": true,
                       "labelExpr": "'10'+(datum.value<1?'⁻':'')+['⁰','¹','²','³','⁴','⁵','⁶','⁷','⁸','⁹'][abs(round(log(datum.value)/LN10))]"}}},
                 "layer": [
                   {"mark": {"type": "line", "strokeWidth": 1, "strokeDash": [3.7, 1.6]},
                    "encoding": {"stroke": {"field": "s", "type": "nominal", "scale": {"domain": ["Π. Verify"], "range": ["#dc2a1f"]}}}},
                   {"mark": {"type": "point", "filled": true, "size": 110, "opacity": 1, "strokeWidth": 0, "color": "#dc2a1f", "shape": "circle"}},
                   {"transform": [{"filter": "datum.b === '10'"}],
                    "mark": {"type": "point", "filled": true, "size": 400, "opacity": 0, "strokeWidth": 1, "clip": true},
                    "encoding": {
                      "fill": {"field": "s", "type": "nominal", "scale": {"domain": ["Π. Verify"], "range": ["#dc2a1f"]},
                               "legend": {"title": null, "orient": "top-right", "offset": 8, "symbolSize": 400, "symbolStrokeWidth": 1, "symbolDash": [3.7, 1.6], "symbolOpacity": 1, "labelOffset": 22, "labelFontSize": 15}},
                      "stroke": {"field": "s", "type": "nominal",
                               "legend": {"title": null, "orient": "top-right", "offset": 8, "symbolSize": 400, "symbolStrokeWidth": 1, "symbolDash": [3.7, 1.6], "symbolOpacity": 1, "labelOffset": 22, "labelFontSize": 15}},
                      "shape": {"field": "s", "type": "nominal", "scale": {"domain": ["Π. Verify"], "range": ["M-1,0H2.2M0.05,0A0.55,0.55 0 1,1 1.15,0A0.55,0.55 0 1,1 0.05,0Z"]},
                               "legend": {"title": null, "orient": "top-right", "offset": 8, "symbolSize": 400, "symbolStrokeWidth": 1, "symbolDash": [3.7, 1.6], "symbolOpacity": 1, "labelOffset": 22, "labelFontSize": 15}}
                    }}
                 ]}
              ],
              "resolve": {"scale": {"y": "independent", "stroke": "independent", "fill": "independent", "shape": "independent"}}
            },
            {
              "width": 230, "height": 197,
              "data": {"name": "h"},
              "title": {"text": "(h)", "orient": "bottom", "offset": 19},
              "encoding": {
                "x": {"field": "b", "type": "nominal", "sort": ["(11,31)","(21,61)","(31,91)","(41,121)","(51,151)"], "scale": {"paddingInner": 0.25, "paddingOuter": 0.24},
                      "axis": {"title": "Thresholds-(t,n)", "titlePadding": 4, "labelAngle": -30, "labelAlign": "right", "labelBaseline": "top",
                               "encode": {"labels": {"dx": {"value": {"expr": "length(datum.label)*4.05-8.9"}}, "dy": {"value": {"expr": "length(datum.label)*2.34-5.1"}}}}}},
                "xOffset": {"field": "s", "type": "nominal", "scale": {"domain": ["Share","Verify","Recover"]}}
              },
              "layer": [
                {"transform": [{"filter": "datum.u === 'l'"}],
                 "mark": {"type": "bar", "stroke": "#1a1a1a", "strokeWidth": 1},
                 "encoding": {
                   "y": {"field": "t", "type": "quantitative", "scale": {"domain": [0, 200], "nice": false}, "axis": {"title": "Time (ms)", "values": [0, 50, 100, 150, 200], "grid": true}},
                   "color": {"field": "s", "type": "nominal", "scale": {"domain": ["Share","Verify"], "range": ["#dc2a1f","#52a6d0"]},
                             "legend": {"title": null, "orient": "top-left", "offset": 7, "symbolSize": 256, "symbolType": "M-1,-0.625H2.625V0.625H-1Z", "symbolStrokeColor": "#1a1a1a", "symbolStrokeWidth": 1, "labelOffset": 25, "labelFontSize": 15, "rowPadding": 5}}
                 }},
                {"transform": [{"filter": "datum.u === 'r'"}],
                 "mark": {"type": "bar", "stroke": "#1a1a1a", "strokeWidth": 1},
                 "encoding": {
                   "y": {"field": "t", "type": "quantitative", "scale": {"domain": [0, 10], "nice": false}, "axis": {"orient": "right", "title": "Time (ms)", "titleAngle": 270, "titleBaseline": "top", "values": [0, 2, 4, 6, 8, 10], "grid": false}},
                   "color": {"field": "s", "type": "nominal", "scale": {"domain": ["Recover"], "range": ["#55a868"]},
                             "legend": {"title": null, "orient": "top-right", "offset": 7, "symbolSize": 256, "symbolType": "M-1,-0.625H2.625V0.625H-1Z", "symbolStrokeColor": "#1a1a1a", "symbolStrokeWidth": 1, "labelOffset": 25, "labelFontSize": 15}}
                 }}
              ],
              "resolve": {"scale": {"y": "independent", "color": "independent"}}
            }
          ]
        }
      ]
    }
  ]
}
